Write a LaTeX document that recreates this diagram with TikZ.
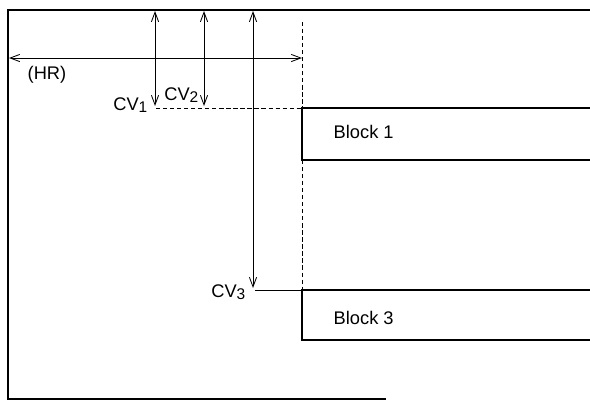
\documentclass[tikz,border=0pt]{standalone}
\usepackage{fontspec}
\setmainfont{Liberation Sans}
\usetikzlibrary{arrows.meta,positioning}

\newcommand{\cvidx}[1]{\raisebox{-0.25ex}{\fontsize{11}{13}\selectfont #1}}

\begin{document}
\begin{tikzpicture}[x=0.025cm,y=-0.025cm,
  frame/.style={line width=1.2pt,line cap=rect},
  dim/.style={{Straight Barb[length=2.4mm,width=1.8mm]}-{Straight Barb[length=2.4mm,width=1.8mm]},line width=0.6pt},
  guide/.style={dash pattern=on 3pt off 2pt,line width=0.7pt},
  lbl/.style={font=\fontsize{13}{15}\selectfont,inner sep=1pt}
]
\useasboundingbox (0,0) rectangle (590,404);
% outer frame, open on the right
\coordinate (tl) at (8,10);
\coordinate (tr) at (590,10);
\coordinate (bl) at (8,399);
\coordinate (br) at (385,399);
\draw[frame] (tr) -- (tl) -- (bl) -- (br);

% blocks
\coordinate (b1tl) at (302,108);
\coordinate (b1bl) at (302,160);
\coordinate (b1tr) at (590,108);
\coordinate (b1br) at (590,160);
\coordinate (b3tl) at (302,290);
\coordinate (b3bl) at (302,340);
\coordinate (b3tr) at (590,290);
\coordinate (b3br) at (590,340);
\draw[frame] (b1tr) -- (b1tl) -- (b1bl) -- (b1br);
\draw[frame] (b3tr) -- (b3tl) -- (b3bl) -- (b3br);
\node[lbl,anchor=west] (blk1) at (332,132) {Block 1};
\node[lbl,anchor=west] (blk3) at (332,318) {Block 3};

% boundary of HR
\coordinate (hrtop) at (302,22);
\draw[guide] (hrtop) -- (b1tl);
\draw[guide] (b1bl) -- (b3tl);

% HR
\coordinate (hrl) at (9,58);
\coordinate (hrr) at (302,58);
\draw[dim] (hrl) -- (hrr);
\node[lbl,anchor=west] (hr) at (26,75) {(HR)};

% CV1, CV2, CV3
\coordinate (cv1t) at (155,11);
\coordinate (cv1b) at (155,106);
\coordinate (cv2t) at (204,11);
\coordinate (cv2b) at (204,106);
\coordinate (cv3t) at (253,11);
\coordinate (cv3b) at (253,288);
\draw[dim] (cv1t) -- (cv1b);
\draw[dim] (cv2t) -- (cv2b);
\draw[dim] (cv3t) -- (cv3b);
\coordinate (cv1e) at (156,108);
\coordinate (cv3e) at (255,290);
\draw[guide] (cv1e) -- (b1tl);
\draw[line width=0.7pt] (cv3e) -- (b3tl);
\node[lbl,anchor=east] (cv1) at (149,105) {CV\cvidx{1}};
\node[lbl,anchor=east] (cv2) at (200,95) {CV\cvidx{2}};
\node[lbl,anchor=east] (cv3) at (247,292) {CV\cvidx{3}};
\end{tikzpicture}
\end{document}
